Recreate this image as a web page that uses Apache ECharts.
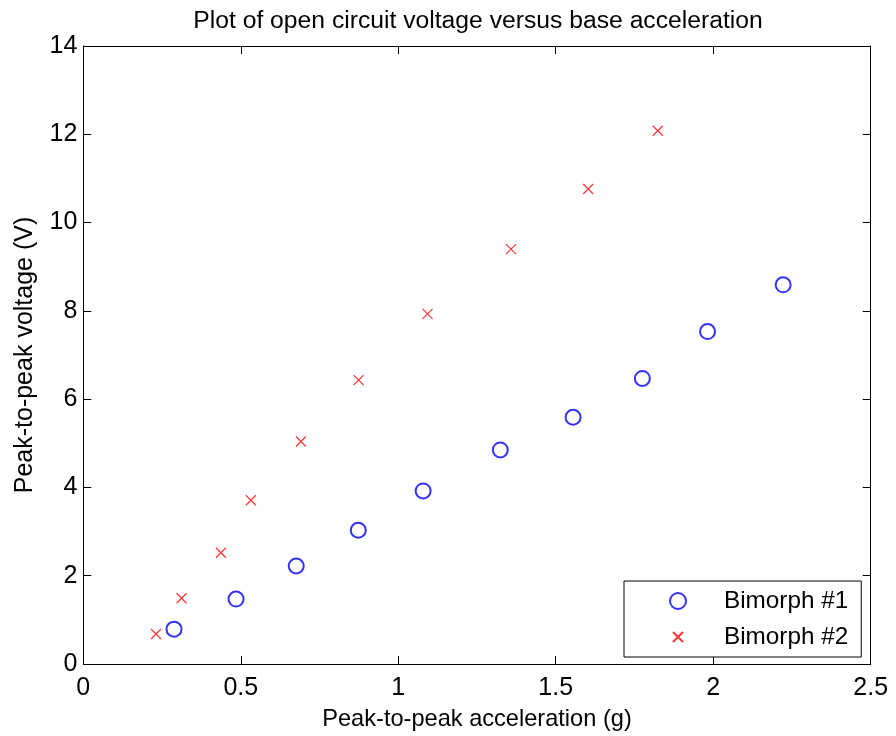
<!DOCTYPE html>
<html>
<head>
<meta charset="utf-8">
<script src="https://cdn.jsdelivr.net/npm/echarts@6/dist/echarts.min.js"></script>
<style>html,body{margin:0;padding:0;background:#fff}#c{width:896px;height:736px}</style>
</head>
<body>
<div id="c"></div>
<script>
const titleText = 'Plot of open circuit voltage versus base acceleration';
const xName = 'Peak-to-peak acceleration (g)';
const yName = 'Peak-to-peak voltage (V)';
const seriesNames = ['Bimorph #1', 'Bimorph #2'];
const b1Accel = [0.288, 0.485, 0.676, 0.873, 1.079, 1.324, 1.555, 1.775, 1.982, 2.222];
const b1Volt  = [0.79, 1.47, 2.22, 3.03, 3.92, 4.85, 5.59, 6.47, 7.53, 8.59];
const b2Accel = [0.231, 0.312, 0.437, 0.532, 0.691, 0.874, 1.093, 1.358, 1.603, 1.824];
const b2Volt  = [0.68, 1.49, 2.52, 3.71, 5.04, 6.43, 7.93, 9.40, 10.76, 12.08];

const FONT = 'Liberation Sans, Arial, sans-serif';
const CROSS = 'path://M3,3L13,13M13,3L3,13';
const CROSS_LEGEND = 'path://M0,0L0,0M16,16L16,16M3,3L13,13M13,3L3,13';
const chart = echarts.init(document.getElementById('c'), null, {renderer: 'canvas'});
const pairs = (xs, ys) => xs.map((x, i) => [x, ys[i]]);
const axisCommon = {
  axisLine: {show: true, onZero: false, lineStyle: {color: '#000', width: 1}},
  axisTick: {show: true, inside: true, length: 8, lineStyle: {color: '#000'}},
  splitLine: {show: false}
};
chart.setOption({
  animation: false,
  backgroundColor: '#fff',
  title: {
    text: titleText, left: 473, top: 4, textAlign: 'center',
    textStyle: {fontFamily: FONT, fontSize: 24.7, fontWeight: 'normal', color: '#000'}
  },
  grid: {left: 83.3, right: 25.3, top: 46, bottom: 68.7, containLabel: false},
  xAxis: [
    Object.assign({type: 'value', min: 0, max: 2.5, interval: 0.5, position: 'bottom',
      name: xName, nameLocation: 'middle', nameGap: 43,
      nameTextStyle: {fontFamily: FONT, fontSize: 23.6, color: '#000'},
      axisLabel: {fontFamily: FONT, fontSize: 25, color: '#000', margin: 12}}, axisCommon),
    Object.assign({type: 'value', min: 0, max: 2.5, interval: 0.5, position: 'top',
      axisLabel: {show: false}}, axisCommon)
  ],
  yAxis: [
    Object.assign({type: 'value', min: 0, max: 14, interval: 2, position: 'left',
      name: yName, nameLocation: 'middle', nameGap: 46, nameRotate: 90,
      nameTextStyle: {fontFamily: FONT, fontSize: 25, color: '#000'},
      axisLabel: {fontFamily: FONT, fontSize: 25, color: '#000', margin: 6}}, axisCommon),
    Object.assign({type: 'value', min: 0, max: 14, interval: 2, position: 'right',
      axisLabel: {show: false}}, axisCommon)
  ],
  legend: {
    orient: 'vertical', left: 624, top: 581,
    backgroundColor: '#fff', borderColor: '#000', borderWidth: 1,
    padding: [8, 13, 8, 45], itemWidth: 16, itemHeight: 16, itemGap: 12,
    formatter: name => '{t|' + name + '}',
    textStyle: {fontFamily: FONT, fontSize: 24, color: '#000', lineHeight: 24,
      rich: {t: {fontFamily: FONT, fontSize: 24.3, color: '#000', lineHeight: 24, padding: [0, 0, 0, 33]}}},
    data: [
      {name: seriesNames[0], icon: 'emptyCircle'},
      {name: seriesNames[1], icon: CROSS_LEGEND}
    ]
  },
  series: [
    {
      name: seriesNames[0], type: 'scatter', data: pairs(b1Accel, b1Volt),
      symbol: 'emptyCircle', symbolSize: 15,
      itemStyle: {color: '#0000ff', borderColor: '#0000ff', borderWidth: 1.3}
    },
    {
      name: seriesNames[1], type: 'scatter', data: pairs(b2Accel, b2Volt),
      symbol: CROSS, symbolSize: 10, symbolKeepAspect: true,
      itemStyle: {color: 'rgba(0,0,0,0)', borderColor: '#ff0000', borderWidth: 1.2}
    }
  ]
});
</script>
</body>
</html>
